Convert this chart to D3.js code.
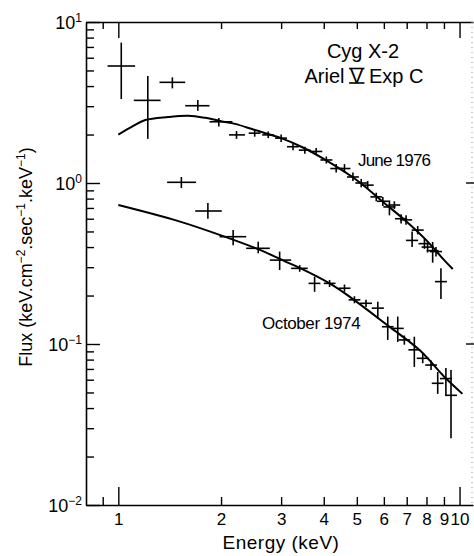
<!DOCTYPE html>
<html>
<head>
<meta charset="UTF-8">
<script src="https://d3js.org/d3.v7.min.js"></script>
<style>
  body { margin: 0; background: #fff; }
  svg { font-family: "Liberation Sans", Arial, sans-serif; }
</style>
</head>
<body>
<svg id="chart" width="474" height="556"></svg>
<script>
// points: [energy, flux, energyLo, energyHi, fluxLo, fluxHi]
const june1976 = [
  [1.02, 5.33, 0.93, 1.12, 3.32, 7.44],
  [1.22, 3.26, 1.11, 1.33, 1.88, 4.62],
  [1.44, 4.22, 1.32, 1.57, 3.87, 4.53],
  [1.71, 3.02, 1.57, 1.85, 2.81, 3.28],
  [1.97, 2.40, 1.85, 2.16, 2.24, 2.53],
  [2.22, 1.99, 2.11, 2.35, 1.88, 2.10],
  [2.51, 2.04, 2.41, 2.61, 1.94, 2.14],
  [2.75, 1.99, 2.64, 2.86, 1.90, 2.09],
  [3.00, 1.90, 2.88, 3.12, 1.80, 2.00],
  [3.25, 1.68, 3.12, 3.38, 1.60, 1.77],
  [3.52, 1.60, 3.38, 3.66, 1.52, 1.68],
  [3.80, 1.57, 3.65, 3.96, 1.49, 1.65],
  [4.07, 1.39, 3.91, 4.24, 1.32, 1.46],
  [4.35, 1.23, 4.18, 4.53, 1.16, 1.31],
  [4.60, 1.23, 4.42, 4.79, 1.16, 1.31],
  [4.87, 1.09, 4.68, 5.07, 1.03, 1.16],
  [5.15, 1.00, 4.95, 5.36, 0.94, 1.06],
  [5.38, 0.97, 5.17, 5.60, 0.92, 1.03],
  [5.70, 0.82, 5.48, 5.93, 0.77, 0.87],
  [5.96, 0.77, 5.73, 6.20, 0.72, 0.82],
  [6.23, 0.71, 5.98, 6.49, 0.63, 0.78],
  [6.44, 0.73, 6.19, 6.70, 0.69, 0.77],
  [6.74, 0.60, 6.47, 7.02, 0.56, 0.64],
  [6.97, 0.59, 6.70, 7.26, 0.55, 0.63],
  [7.54, 0.51, 7.24, 7.85, 0.48, 0.54],
  [7.26, 0.44, 6.97, 7.56, 0.40, 0.50],
  [7.89, 0.42, 7.58, 8.21, 0.39, 0.45],
  [8.06, 0.40, 7.74, 8.39, 0.37, 0.43],
  [8.34, 0.38, 8.01, 8.68, 0.32, 0.43],
  [8.53, 0.375, 8.19, 8.88, 0.35, 0.40],
  [8.82, 0.244, 8.47, 9.18, 0.19, 0.295]
];

const october1974 = [
  [1.53, 1.01, 1.39, 1.69, 0.93, 1.09],
  [1.83, 0.67, 1.68, 2.01, 0.60, 0.75],
  [2.17, 0.464, 1.98, 2.37, 0.41, 0.51],
  [2.57, 0.393, 2.37, 2.78, 0.366, 0.432],
  [2.97, 0.332, 2.78, 3.21, 0.288, 0.375],
  [3.40, 0.295, 3.21, 3.59, 0.281, 0.309],
  [3.76, 0.238, 3.61, 3.91, 0.211, 0.262],
  [4.16, 0.238, 4.00, 4.33, 0.226, 0.250],
  [4.60, 0.222, 4.42, 4.79, 0.211, 0.234],
  [4.92, 0.188, 4.73, 5.12, 0.179, 0.198],
  [5.32, 0.179, 5.11, 5.54, 0.170, 0.188],
  [5.76, 0.167, 5.53, 6.00, 0.144, 0.183],
  [6.16, 0.128, 5.92, 6.41, 0.106, 0.148],
  [6.59, 0.125, 6.33, 6.86, 0.103, 0.148],
  [6.89, 0.106, 6.62, 7.17, 0.099, 0.113],
  [7.37, 0.092, 7.08, 7.67, 0.072, 0.111],
  [7.80, 0.0815, 7.49, 8.12, 0.076, 0.087],
  [8.25, 0.074, 7.93, 8.59, 0.069, 0.079],
  [8.63, 0.057, 8.29, 8.98, 0.049, 0.067],
  [9.12, 0.061, 8.76, 9.49, 0.048, 0.071],
  [9.44, 0.048, 9.07, 9.83, 0.026, 0.069]
];

// fitted model curves [energy, flux]
const juneModel = [
  [1.0, 2.0], [1.1, 2.25], [1.2, 2.46], [1.4, 2.57], [1.6, 2.62], [1.8, 2.54],
  [2.0, 2.42], [2.2, 2.33], [2.5, 2.14], [3.0, 1.90], [3.5, 1.65], [4.0, 1.41],
  [5.0, 1.04], [6.0, 0.755], [7.0, 0.575], [8.0, 0.44], [9.0, 0.333], [9.55, 0.292]
];
const octoberModel = [
  [1.0, 0.73], [1.5, 0.58], [2.0, 0.473], [2.6, 0.384], [3.1, 0.324], [3.4, 0.297],
  [4.16, 0.238], [4.76, 0.197], [6.23, 0.128], [7.62, 0.092], [9.13, 0.061], [10.2, 0.049]
];

const energyTicks = [0.9, 1, 2, 3, 4, 5, 6, 7, 8, 9, 10];
const energyMajor = [1, 10];
const fluxMajor = [10, 1, 0.1, 0.01];
const fluxExp = ["1", "0", "\u22121", "\u22122"];
const fluxMinor = [0.02,0.03,0.04,0.05,0.06,0.07,0.08,0.09,
                   0.2,0.3,0.4,0.5,0.6,0.7,0.8,0.9,
                   2,3,4,5,6,7,8,9];

const width = 474, height = 556;
const margin = { top: 22, right: 1, bottom: 51, left: 86 };

const svg = d3.select("#chart");

const x = d3.scaleLog()
    .domain([0.804, 10.95])
    .range([margin.left, width - margin.right]);

const y = d3.scaleLog()
    .domain([0.01, 10])
    .range([height - margin.bottom, margin.top]);

// bottom axis
const xAxisB = svg.append("g")
    .attr("transform", `translate(0,${height - margin.bottom})`)
    .call(d3.axisBottom(x).tickValues(energyTicks).tickSize(-8).tickSizeOuter(0)
        .tickPadding(8).tickFormat(d => d < 1 ? "" : d));
xAxisB.selectAll(".tick line").filter(d => energyMajor.includes(d)).attr("y2", -18);
xAxisB.selectAll("text").attr("font-size", 17).attr("fill", "#000");

// top axis
const xAxisT = svg.append("g")
    .attr("transform", `translate(0,${margin.top})`)
    .call(d3.axisTop(x).tickValues(energyTicks).tickSize(-7).tickSizeOuter(0).tickFormat(""));
xAxisT.selectAll(".tick line").filter(d => energyMajor.includes(d)).attr("y2", 16);

// left axis
const yAxisL = svg.append("g")
    .attr("transform", `translate(${margin.left},0)`)
    .call(d3.axisLeft(y).tickValues(fluxMinor.concat(fluxMajor)).tickSize(-8).tickSizeOuter(0).tickFormat(""));
yAxisL.selectAll(".tick line").filter(d => fluxMajor.includes(d)).attr("x2", 14);

svg.selectAll("g").attr("font-family", null);
svg.selectAll(".domain").attr("stroke-width", 1.6);
svg.selectAll(".tick line").attr("stroke-width", 1.4);

// right edge (faint in the scan)
svg.append("line")
    .attr("x1", width - margin.right - 1).attr("x2", width - margin.right - 1)
    .attr("y1", margin.top).attr("y2", height - margin.bottom)
    .attr("stroke", "#999").attr("stroke-width", 1).attr("stroke-dasharray", "1,4");
svg.selectAll(".rtick")
    .data([1, 0.1])
    .enter().append("line")
    .attr("x1", width - 8).attr("x2", width)
    .attr("y1", d => y(d)).attr("y2", d => y(d))
    .attr("stroke", "#000").attr("stroke-width", 1.4);

// y tick labels 10^n
fluxMajor.forEach((v, i) => {
    const t = svg.append("text")
        .attr("x", 82).attr("y", y(v) + 7)
        .attr("text-anchor", "end")
        .attr("font-size", 18);
    t.append("tspan").text("10");
    t.append("tspan").attr("dy", -7).attr("font-size", 12).text(fluxExp[i]);
});

// curves
const line = d3.line()
    .x(d => x(d[0]))
    .y(d => y(d[1]))
    .curve(d3.curveCatmullRom);

[juneModel, octoberModel].forEach(m => {
    svg.append("path")
        .datum(m)
        .attr("fill", "none")
        .attr("stroke", "#000")
        .attr("stroke-width", 2)
        .attr("d", line);
});

// error crosses
const pts = june1976.concat(october1974);
const g = svg.append("g").attr("stroke", "#000").attr("stroke-width", 1.6);
g.selectAll(".h")
    .data(pts).enter().append("line")
    .attr("x1", d => x(d[2])).attr("x2", d => x(d[3]))
    .attr("y1", d => y(d[1])).attr("y2", d => y(d[1]));
g.selectAll(".v")
    .data(pts).enter().append("line")
    .attr("x1", d => x(d[0])).attr("x2", d => x(d[0]))
    .attr("y1", d => y(d[4])).attr("y2", d => y(d[5]));

// labels
svg.append("text")
    .attr("x", 363).attr("y", 58)
    .attr("text-anchor", "middle").attr("font-size", 20)
    .text("Cyg X-2");
const ariel = svg.append("text")
    .attr("x", 364).attr("y", 83)
    .attr("text-anchor", "middle").attr("font-size", 20)
    .text("Ariel V Exp C");
// roman numeral bars on the V
const vBox = ariel.node().getExtentOfChar(6);
[83, 83 - 14.5].forEach(yy => {
    svg.append("line")
        .attr("x1", vBox.x - 1).attr("x2", vBox.x + vBox.width + 1)
        .attr("y1", yy).attr("y2", yy)
        .attr("stroke", "#000").attr("stroke-width", 1.6);
});

svg.append("text")
    .attr("x", 358).attr("y", 166)
    .attr("font-size", 17).attr("letter-spacing", -0.8)
    .text("June 1976");
svg.append("text")
    .attr("x", 262).attr("y", 329)
    .attr("font-size", 17).attr("letter-spacing", -0.4)
    .text("October 1974");

// axis titles
svg.append("text")
    .attr("x", 281).attr("y", 549)
    .attr("text-anchor", "middle").attr("font-size", 19).attr("letter-spacing", 0.5)
    .text("Energy (keV)");

const yt = svg.append("text")
    .attr("transform", "translate(32,257) rotate(-90)")
    .attr("text-anchor", "middle").attr("font-size", 18);
yt.append("tspan").text("Flux (keV.cm");
yt.append("tspan").attr("dy", -7).attr("font-size", 12).text("\u22122");
yt.append("tspan").attr("dy", 7).text(".sec");
yt.append("tspan").attr("dy", -7).attr("font-size", 12).text("\u22121");
yt.append("tspan").attr("dy", 7).text(".keV");
yt.append("tspan").attr("dy", -7).attr("font-size", 12).text("\u22121");
yt.append("tspan").attr("dy", 7).text(")");
</script>
</body>
</html>
